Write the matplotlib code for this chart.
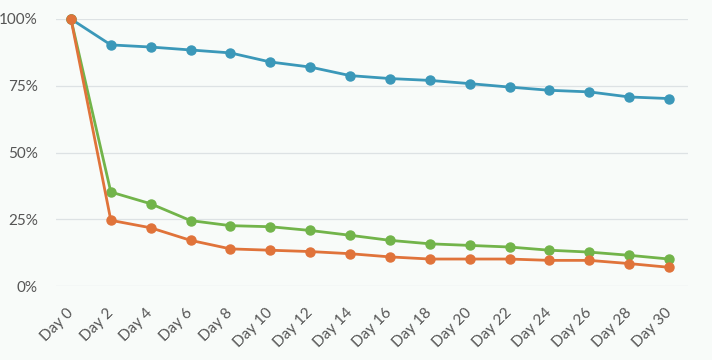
import numpy as np
import matplotlib
matplotlib.use('Agg')
import matplotlib.pyplot as plt

days = [0, 2, 4, 6, 8, 10, 12, 14, 16, 18, 20, 22, 24, 26, 28, 30]
labels = ['Day %d' % d for d in days]

blue = [100, 90.3, 89.5, 88.4, 87.3, 83.9, 82.0, 78.8, 77.7, 77.0, 75.8, 74.5, 73.3, 72.7, 70.8, 70.2]
green = [100, 35.2, 30.8, 24.5, 22.6, 22.2, 20.8, 19.0, 17.1, 15.8, 15.2, 14.6, 13.4, 12.7, 11.5, 10.1]
orange = [100, 24.6, 21.8, 17.1, 13.9, 13.4, 12.9, 12.1, 10.9, 10.1, 10.1, 10.1, 9.6, 9.6, 8.4, 7.0]

plt.rcParams['font.family'] = ['Lato', 'DejaVu Sans']

fig = plt.figure(figsize=(7.12, 3.6), dpi=100)
fig.patch.set_facecolor('#f8fbf9')
ax = fig.add_axes([56/712, (360-286)/360, (688-56)/712, (286-19)/360])
ax.set_facecolor('#f8fbf9')

ax.plot(days, blue, color='#3b98b9', lw=2, marker='o', ms=6.5, clip_on=False, zorder=3)
ax.plot(days, green, color='#72b44a', lw=2, marker='o', ms=6.5, clip_on=False, zorder=3)
ax.plot(days, orange, color='#e0733a', lw=2, marker='o', ms=6.5, clip_on=False, zorder=4)

ax.set_xlim(-0.75, 30.95)
ax.set_ylim(0, 100)
ax.set_yticks([0, 25, 50, 75, 100])
ax.set_yticklabels(['0%', '25%', '50%', '75%', '100%'])
ax.set_xticks(days)
ax.set_xticklabels(labels, rotation=45, ha='right', va='center', rotation_mode='anchor')

ax.grid(axis='y', color='#dde2e4', lw=0.9)
ax.set_axisbelow(True)
for s in ax.spines.values():
    s.set_visible(False)
ax.tick_params(axis='both', length=0, labelsize=11, colors='#555555')
ax.tick_params(axis='x', pad=18)
ax.tick_params(axis='y', pad=13)

fig.savefig('out.png', dpi=100, facecolor=fig.get_facecolor())
